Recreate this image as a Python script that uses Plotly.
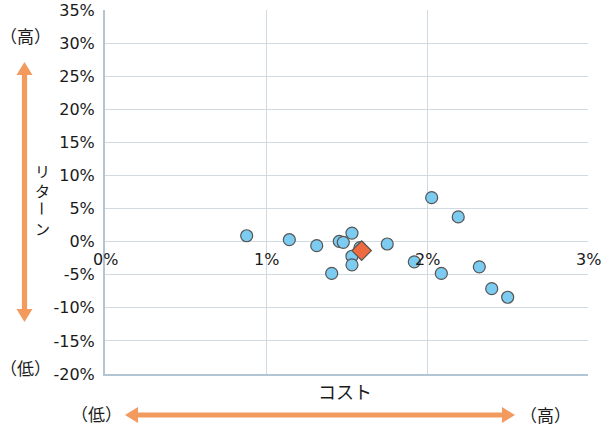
import plotly.graph_objects as go

# Data (percent units)
cost = [0.88, 1.145, 1.315, 1.408, 1.455, 1.48, 1.534, 1.534, 1.534, 1.584,
        1.753, 1.921, 2.029, 2.089, 2.194, 2.325, 2.402, 2.501]
ret = [0.9, 0.3, -0.6, -4.8, 0.05, -0.1, 1.3, -2.2, -3.5, -0.9,
       -0.35, -3.05, 6.65, -4.8, 3.75, -3.8, -7.1, -8.4]
hl_cost = [1.594]
hl_ret = [-1.35]

x_ticks = [0, 1, 2, 3]
x_tick_labels = ["0%", "1%", "2%", "3%"]
y_ticks = [-20, -15, -10, -5, 0, 5, 10, 15, 20, 25, 30, 35]
y_tick_labels = [f"{v}%" for v in y_ticks]

W, H = 603, 427
L, R, T, B = 105, 15, 10, 53
PW, PH = W - L - R, H - T - B

def px(x):
    return (x - L) / PW

def py(y):
    return (H - B - y) / PH

FONT = "Noto Sans CJK JP, sans-serif"
NUMFONT = "DejaVu Sans, sans-serif"
ORANGE = "#f39a5f"
GRID = "#cfdae3"
AXIS = "#b3c5d3"
TXT = "#1a1a1a"

fig = go.Figure()
fig.add_trace(go.Scatter(
    x=cost, y=ret, mode="markers",
    marker=dict(size=12, color="#7ccbf1", line=dict(color="#555555", width=1.2)),
    showlegend=False, cliponaxis=False))
fig.add_trace(go.Scatter(
    x=hl_cost, y=hl_ret, mode="markers",
    marker=dict(size=15, symbol="diamond", color="#ee6a3f", line=dict(color="#555555", width=1.2)),
    showlegend=False, cliponaxis=False))

annotations = []
for v, t in zip(x_ticks, x_tick_labels):
    annotations.append(dict(x=v, y=0, xref="x", yref="y", text=t, showarrow=False,
                            yanchor="top", xanchor="center", yshift=-6,
                            font=dict(size=16, color=TXT, family=NUMFONT)))

def txt(x, y, t, size=17, angle=0):
    annotations.append(dict(x=px(x), y=py(y), xref="paper", yref="paper", text=t,
                            showarrow=False, xanchor="center", yanchor="middle",
                            textangle=angle,
                            font=dict(size=size, color=TXT, family=FONT)))

txt(25, 36, "（高）")
txt(25, 367, "（低）")
txt(96, 413, "（低）")
txt(545, 414, "（高）")
txt(345, 391, "コスト", size=18)
ylab = "リターン"
ypos = [170, 190, 209, 228]
for ch, yy in zip(ylab, ypos):
    txt(43, yy, ch, size=15, angle=90 if ch == "ー" else 0)

shapes = []
# vertical double arrow
vx, vtop, vbot = 24.5, 62, 322
hw, hl, sw = 8, 13, 2.6
def tri(p):
    return dict(type="path", xref="paper", yref="paper", fillcolor=ORANGE, line=dict(width=0), path=p)

shapes.append(tri(f"M {px(vx-sw)} {py(vtop+hl)} L {px(vx-sw)} {py(vbot-hl)} L {px(vx+sw)} {py(vbot-hl)} L {px(vx+sw)} {py(vtop+hl)} Z"))
shapes.append(tri(f"M {px(vx)} {py(vtop)} L {px(vx-hw)} {py(vtop+hl)} L {px(vx+hw)} {py(vtop+hl)} Z"))
shapes.append(tri(f"M {px(vx)} {py(vbot)} L {px(vx-hw)} {py(vbot-hl)} L {px(vx+hw)} {py(vbot-hl)} Z"))
# horizontal double arrow
hy, hleft, hright = 415, 125, 515
shapes.append(tri(f"M {px(hleft+hl)} {py(hy-sw)} L {px(hright-hl)} {py(hy-sw)} L {px(hright-hl)} {py(hy+sw)} L {px(hleft+hl)} {py(hy+sw)} Z"))
shapes.append(tri(f"M {px(hleft)} {py(hy)} L {px(hleft+hl)} {py(hy-hw)} L {px(hleft+hl)} {py(hy+hw)} Z"))
shapes.append(tri(f"M {px(hright)} {py(hy)} L {px(hright-hl)} {py(hy-hw)} L {px(hright-hl)} {py(hy+hw)} Z"))

fig.update_layout(
    width=W, height=H,
    margin=dict(l=L, r=R, t=T, b=B, autoexpand=False),
    paper_bgcolor="white", plot_bgcolor="white",
    font=dict(family=FONT, size=17, color=TXT),
    xaxis=dict(range=[0, 3], tickvals=x_ticks, showticklabels=False, showgrid=True,
               gridcolor=GRID, gridwidth=1, zeroline=False, showline=True,
               linecolor=AXIS, linewidth=2, fixedrange=True),
    yaxis=dict(range=[-20, 35.02], tickvals=y_ticks, ticktext=y_tick_labels, showgrid=True,
               gridcolor=GRID, gridwidth=1, zeroline=False, showline=True,
               linecolor=AXIS, linewidth=2, ticks="", ticklabelstandoff=5,
               tickfont=dict(size=16, color=TXT, family=NUMFONT), fixedrange=True),
    annotations=annotations,
    shapes=shapes,
)

fig.write_html("out.html", config={"displayModeBar": False},
               post_script="document.body.style.margin='0';document.body.style.overflow='hidden';")
